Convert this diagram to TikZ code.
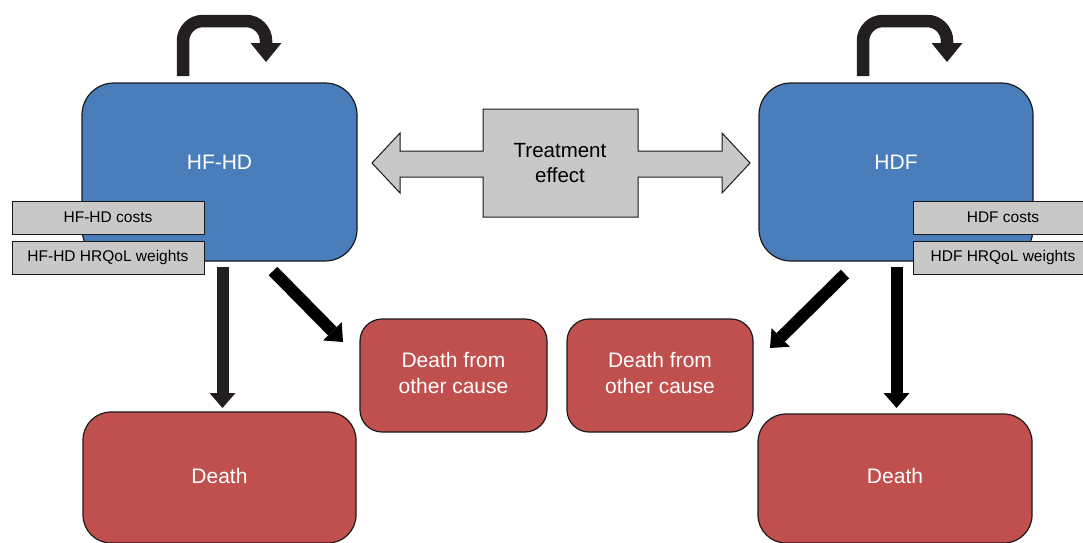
\documentclass[tikz,border=0pt]{standalone}
\usepackage{fontspec}
\setmainfont{Liberation Sans}
\usetikzlibrary{arrows.meta}
\definecolor{boxblue}{HTML}{4A7EBB}
\definecolor{boxred}{HTML}{C0504D}
\definecolor{boxgray}{HTML}{C8C8C8}
\definecolor{arrowdark}{HTML}{231F20}
\definecolor{edgedark}{HTML}{1A1A1A}
\begin{document}
\begin{tikzpicture}[x=1pt,y=-1pt,
  bigtext/.style={text=white, font=\fontsize{21}{26}\selectfont, align=center},
  statebox/.style={draw=edgedark, line width=1.2pt, rounded corners=32pt, fill=boxblue, inner sep=0pt, minimum width=275pt, minimum height=178pt},
  deadbox/.style={draw=edgedark, line width=1.2pt, fill=boxred, inner sep=0pt},
  costbox/.style={draw=edgedark, line width=1pt, fill=boxgray, text=black, font=\fontsize{15.5}{18}\selectfont, inner sep=0pt, minimum width=192pt, minimum height=33pt},
  blockarrow/.style={line width=12pt, -{Triangle[length=15pt,width=26pt,line width=0pt]}},
  looparrow/.style={line width=12.5pt, rounded corners=20pt, color=arrowdark, -{Triangle[length=19pt,width=31pt,line width=0pt]}}
]
\useasboundingbox (0,0) rectangle (1083,542);

% state boxes
\node[statebox, label={[bigtext, yshift=9.5pt]center:HF-HD}] (hfhd) at (219.5,172) {};
\node[statebox, minimum width=274pt, label={[bigtext, yshift=9.5pt]center:HDF}] (hdf) at (896,172) {};

% cost boxes
\node[costbox] (hfcost) at (108,217.5) {HF-HD costs};
\node[costbox] (hfqol) at (108,257.5) {HF-HD HRQoL weights};
\node[costbox, minimum width=180pt] (hdfcost) at (1003,217.5) {HDF costs};
\node[costbox, minimum width=180pt] (hdfqol) at (1003,257.5) {HDF HRQoL weights};

% death boxes
\node[deadbox, rounded corners=22pt, minimum width=187pt, minimum height=113pt,
  label={[bigtext, yshift=2.5pt]center:Death from\\other cause}] (othl) at (453.5,375.5) {};
\node[deadbox, rounded corners=22pt, minimum width=186pt, minimum height=113pt,
  label={[bigtext, yshift=2.5pt]center:Death from\\other cause}] (othr) at (660,375.5) {};
\node[deadbox, rounded corners=28pt, minimum width=273pt, minimum height=131pt,
  label={[bigtext, yshift=1.5pt]center:Death}] (deathl) at (219.5,477.5) {};
\node[deadbox, rounded corners=28pt, minimum width=274pt, minimum height=129pt,
  label={[bigtext, yshift=2.5pt]center:Death}] (deathr) at (895,478.5) {};

% treatment effect double arrow
\draw[draw=edgedark, line width=1pt, fill=boxgray]
  (372,163) -- (400,133) -- (400,151) -- (483,151) -- (483,109) -- (638,109)
  -- (638,151) -- (722,151) -- (722,133) -- (750,163) -- (722,193) -- (722,177)
  -- (638,177) -- (638,217) -- (483,217) -- (483,177) -- (400,177) -- (400,193) -- cycle;
\node[text=black, font=\fontsize{20.5}{25}\selectfont, align=center] (treat) at (560,163) {Treatment\\effect};

% loop arrows
\coordinate (loopls) at (183,76);
\coordinate (looplt) at (266,21);
\coordinate (loople) at (266,62);
\draw[looparrow] (loopls) |- (looplt) -- (loople);
\coordinate (looprs) at (863,76);
\coordinate (looprt) at (947,21);
\coordinate (loopre) at (947,62);
\draw[looparrow] (looprs) |- (looprt) -- (loopre);

% transitions
\coordinate (vls) at (222.5,267);
\coordinate (vle) at (222.5,408);
\draw[blockarrow, color=arrowdark] (vls) -- (vle);
\coordinate (dls) at (273,271);
\coordinate (dle) at (343,342);
\draw[blockarrow, color=black] (dls) -- (dle);
\coordinate (drs) at (845,274);
\coordinate (dre) at (770,348);
\draw[blockarrow, color=black] (drs) -- (dre);
\coordinate (vrs) at (896.5,267);
\coordinate (vre) at (896.5,408);
\draw[blockarrow, color=black] (vrs) -- (vre);
\end{tikzpicture}
\end{document}
